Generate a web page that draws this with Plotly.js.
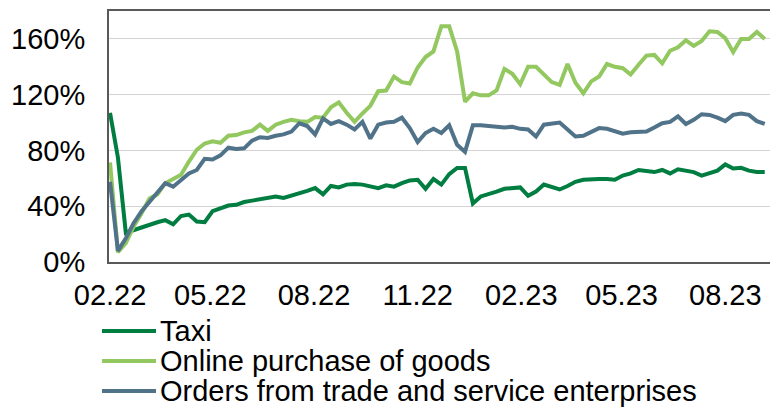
<!DOCTYPE html>
<html>
<head>
<meta charset="utf-8">
<script src="https://cdn.plot.ly/plotly-3.0.1.min.js"></script>
<style>
  html, body { margin: 0; padding: 0; background: #ffffff; }
  #chart { width: 770px; height: 410px; }
</style>
</head>
<body>
<div id="chart"></div>
<script>
// ---- data ----
const weeks = [
  "2022-02-01","2022-02-08","2022-02-15","2022-02-22","2022-03-01","2022-03-08","2022-03-15","2022-03-22","2022-03-29",
  "2022-04-05","2022-04-12","2022-04-19","2022-04-26","2022-05-03","2022-05-10","2022-05-17","2022-05-24","2022-05-31",
  "2022-06-07","2022-06-14","2022-06-21","2022-06-28","2022-07-05","2022-07-12","2022-07-19","2022-07-26","2022-08-02",
  "2022-08-09","2022-08-16","2022-08-23","2022-08-30","2022-09-06","2022-09-13","2022-09-20","2022-09-27","2022-10-04",
  "2022-10-11","2022-10-18","2022-10-25","2022-11-01","2022-11-08","2022-11-15","2022-11-22","2022-11-29","2022-12-06",
  "2022-12-13","2022-12-20","2022-12-27","2023-01-03","2023-01-10","2023-01-17","2023-01-24","2023-01-31","2023-02-07",
  "2023-02-14","2023-02-21","2023-02-28","2023-03-07","2023-03-14","2023-03-21","2023-03-28","2023-04-04","2023-04-11",
  "2023-04-18","2023-04-25","2023-05-02","2023-05-09","2023-05-16","2023-05-23","2023-05-30","2023-06-06","2023-06-13",
  "2023-06-20","2023-06-27","2023-07-04","2023-07-11","2023-07-18","2023-07-25","2023-08-01","2023-08-08","2023-08-15",
  "2023-08-22","2023-08-29","2023-09-05"
];

const seriesNames = ["Taxi", "Online purchase of goods", "Orders from trade and service enterprises"];

const taxi = [
  107, 75, 21, 23, 25, 27, 28.5, 30, 27, 33, 34, 29, 28.5, 36.5, 38.5,
  40.5, 41, 43, 44, 45, 46.5, 47, 46, 47.5, 49, 51, 53, 48.5, 54.5,
  53.5, 55.5, 56, 55.5, 54.5, 53, 55, 54, 56.5, 58.5, 59, 52.5, 59.5, 55.5,
  63, 67.5, 67.5, 42, 47, 48.5, 50.5, 52.5, 53, 53.5, 47.5, 50.5, 55.5, 54,
  52, 54.5, 57.5, 59, 59.5, 59.5, 59.5, 59, 62, 63.5, 66, 65, 64.5,
  66, 63.5, 66.5, 65.5, 64.5, 62, 63.5, 65.5, 70, 67, 67.5, 65.5, 64.5, 64.5
];

const online = [
  71.5, 7, 13.5, 25.5, 35, 45.5, 48.5, 56.5, 59.5, 62.5, 72, 80.5, 85, 86.5, 85.5,
  90.5, 91, 93, 94, 98.5, 94, 98.5, 100.5, 102, 101, 100.5, 104, 103.5, 111,
  114.5, 107, 100.5, 106.5, 112, 122.5, 123, 133, 129, 128, 139.5, 147, 151, 169,
  169, 151, 115, 121, 119.5, 119.5, 123, 138.5, 135, 127.5, 140, 140, 134, 129,
  127, 142, 128.5, 121, 129.5, 133, 142, 140, 139, 134.5, 141.5, 148, 148.5,
  142.5, 151.5, 154, 159, 155, 158.5, 165.5, 165, 160.5, 150.5, 160, 160, 165, 160
];

const orders = [
  57.5, 8, 17, 28, 36.5, 43.5, 50.5, 56.5, 54, 58.5, 63.5, 66, 74, 73.5, 76.5,
  82, 81, 81.5, 87, 89.5, 89, 90.5, 91.5, 93.5, 99.5, 97.5, 91.5, 103, 99,
  101, 98.5, 95, 100.5, 88.5, 98.5, 100, 100.5, 103.5, 96, 86, 92.5, 95.5, 92.5,
  98, 84, 79, 98, 98, 97.5, 97, 96.5, 97, 95.5, 95, 90, 98.5, 99.5,
  100, 95, 90, 90.5, 93.5, 96, 95.5, 93.5, 92, 93, 93.5, 93.5, 96.5,
  99.5, 100.5, 104.5, 99, 102, 106, 105.5, 103.5, 101, 105.5, 106.5, 105.5, 101, 99
];

const xTickVals = ["2022-02-01","2022-05-01","2022-08-01","2022-11-01","2023-02-01","2023-05-01","2023-08-01"];
const xTickText = ["02.22","05.22","08.22","11.22","02.23","05.23","08.23"];
const yTickVals = [0, 40, 80, 120, 160];
const yTickText = ["0%", "40%", "80%", "120%", "160%"];

// ---- style ----
const colors = ["#007D40", "#92C85F", "#507389"];
const FONT = "Liberation Sans, Arial, sans-serif";
const W = 770, H = 410;
const M = { l: 109, r: 0, t: 11, b: 148 };
const pw = W - M.l - M.r, ph = H - M.t - M.b;
const px2x = p => (p - M.l) / pw;
const px2y = p => (H - M.b - p) / ph;

const values = [taxi, online, orders];
const traces = values.map((v, k) => ({
  type: "scatter", mode: "lines", x: weeks, y: v, name: seriesNames[k],
  line: { color: colors[k], width: 4 }, showlegend: false, hoverinfo: "skip"
}));

// manual legend (rows 30px apart)
const legendRows = [331, 361, 391];
const shapes = [], annotations = [];
seriesNames.forEach((n, k) => {
  shapes.push({ type: "line", xref: "paper", yref: "paper",
    x0: px2x(102), x1: px2x(156), y0: px2y(legendRows[k]), y1: px2y(legendRows[k]),
    line: { color: colors[k], width: 4 } });
  annotations.push({ xref: "paper", yref: "paper", x: px2x(158), y: px2y(legendRows[k]),
    xanchor: "left", yanchor: "middle", showarrow: false, text: n,
    font: { family: FONT, size: 29, color: "#000000" } });
});

const layout = {
  width: W, height: H, margin: M,
  paper_bgcolor: "#ffffff", plot_bgcolor: "#ffffff",
  font: { family: FONT, size: 29, color: "#000000" },
  showlegend: false,
  xaxis: {
    type: "date", range: ["2022-01-31 02:00", "2023-09-09 16:00"],
    tickvals: xTickVals, ticktext: xTickText, ticks: "",
    showgrid: false, zeroline: false,
    showline: true, linecolor: "#595959", linewidth: 2, mirror: true,
    ticklabelstandoff: 6, tickfont: { family: FONT, size: 29, color: "#000000" }
  },
  yaxis: {
    range: [0, 180], tickvals: yTickVals, ticktext: yTickText, ticks: "",
    showgrid: true, gridcolor: "#d4d4d4", gridwidth: 1, zeroline: false,
    showline: true, linecolor: "#595959", linewidth: 2, mirror: false,
    ticklabelstandoff: 16, tickfont: { family: FONT, size: 29, color: "#000000" }
  },
  shapes: shapes, annotations: annotations
};

Plotly.newPlot("chart", traces, layout, { staticPlot: true, displayModeBar: false });
</script>
</body>
</html>
